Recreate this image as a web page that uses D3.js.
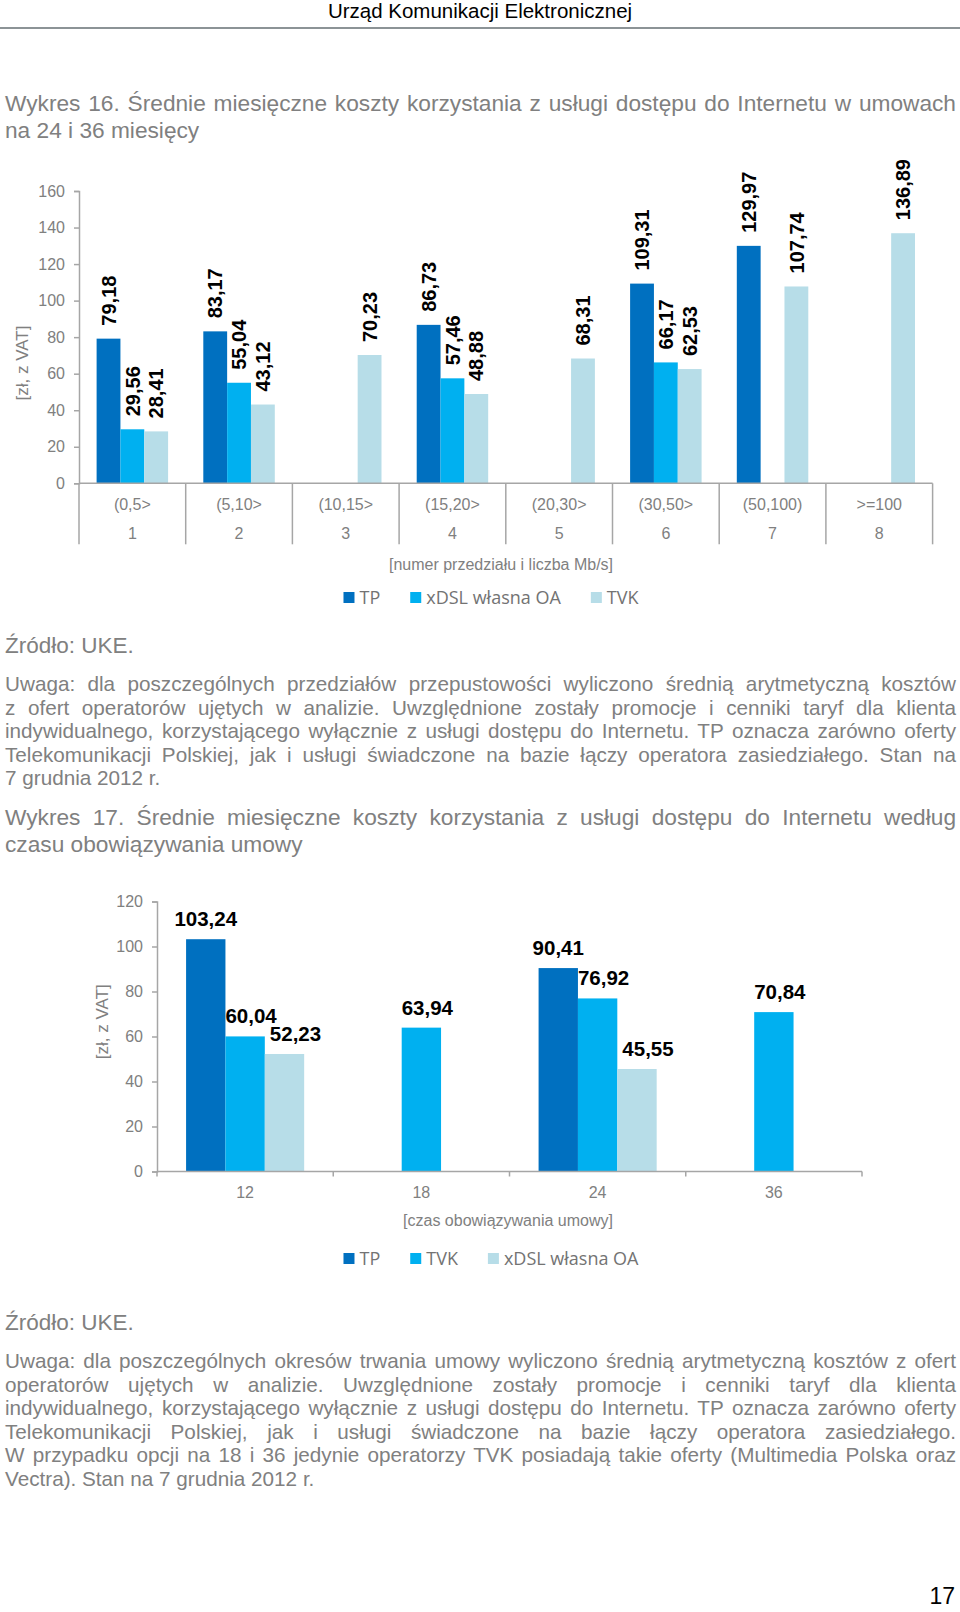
<!DOCTYPE html>
<html>
<head>
<meta charset="utf-8">
<script src="https://cdn.jsdelivr.net/npm/d3@7"></script>
<style>
  body { margin: 0; background: #fff; }
  svg text { font-family: "Liberation Sans", Arial, sans-serif; }
</style>
</head>
<body>
<svg id="page" width="960" height="1612"></svg>
<script>
// --- dane: wykres 16 ---
const cats1 = ["(0,5>", "(5,10>", "(10,15>", "(15,20>", "(20,30>", "(30,50>", "(50,100)", ">=100"];
const nums1 = ["1", "2", "3", "4", "5", "6", "7", "8"];
const series1 = ["TP", "xDSL własna OA", "TVK"];
const tp1 = [79.18, 83.17, null, 86.73, null, 109.31, 129.97, null];
const xdsl1 = [29.56, 55.04, null, 57.46, null, 66.17, null, null];
const tvk1 = [28.41, 43.12, 70.23, 48.88, 68.31, 62.53, 107.74, 136.89];
const yTicks1 = [0, 20, 40, 60, 80, 100, 120, 140, 160];

// --- dane: wykres 17 ---
const cats2 = ["12", "18", "24", "36"];
const series2 = ["TP", "TVK", "xDSL własna OA"];
const tp2 = [103.24, null, 90.41, null];
const tvk2 = [60.04, 63.94, 76.92, 70.84];
const xdsl2 = [52.23, null, 45.55, null];
const yTicks2 = [0, 20, 40, 60, 80, 100, 120];

const dark = "#0070c0", bright = "#00b0f0", light = "#b7dde8";
const grey = "#808080";
const axisGrey = "#a6a6a6";
const fmt = v => v.toFixed(2).replace(".", ",");

const svg = d3.select("#page");

// nagłówek strony
svg.append("text").attr("x", 480).attr("y", 18).attr("text-anchor", "middle")
  .attr("font-size", 20.5).attr("fill", "#000").text("Urząd Komunikacji Elektronicznej");
svg.append("line").attr("x1", 0).attr("x2", 960).attr("y1", 28).attr("y2", 28)
  .attr("stroke", "#8c9396").attr("stroke-width", 2);

// linie tekstu, wyjustowane do prawego marginesu
function textLine(str, x, y, size, justify, color) {
  const t = svg.append("text").attr("x", x).attr("y", y).attr("font-size", size)
    .attr("fill", color || grey).text(str);
  if (justify) {
    const w = t.node().getComputedTextLength();
    const spaces = (str.match(/ /g) || []).length;
    if (spaces) t.attr("word-spacing", (951 - w) / spaces);
  }
  return t;
}

textLine("Wykres 16. Średnie miesięczne koszty korzystania z usługi dostępu do Internetu w umowach", 5, 111, 22.7, true);
textLine("na 24 i 36 miesięcy", 5, 138, 22.7, false);

function drawChart(cfg) {
  const y = d3.scaleLinear().domain(cfg.domain).range([cfg.y0, cfg.y1]);
  const x0 = d3.scaleBand().domain(cfg.cats).range([cfg.x0, cfg.x1])
    .paddingInner(cfg.pad).paddingOuter(cfg.pad / 2);
  const x1 = d3.scaleBand().domain(cfg.series).range([0, x0.bandwidth()]);
  const g = svg.append("g");

  // oś Y
  const yAxis = d3.axisLeft(y).tickValues(cfg.ticks).tickSize(5).tickPadding(9);
  const ya = g.append("g").attr("transform", `translate(${cfg.x0},0)`).call(yAxis);
  ya.select(".domain").attr("stroke", axisGrey).attr("stroke-width", 1.5);
  ya.selectAll(".tick line").attr("stroke", axisGrey).attr("stroke-width", 1.5);
  ya.selectAll("text").attr("font-size", 16).attr("fill", grey)
    .attr("font-family", "Liberation Sans, Arial, sans-serif");

  g.append("text").attr("transform", `translate(${cfg.titleX},${cfg.titleY}) rotate(-90)`)
    .attr("text-anchor", "middle").attr("dy", "0.35em").attr("font-size", 17).attr("fill", grey)
    .text("[zł, z VAT]");

  // słupki
  cfg.values.forEach((vals, si) => {
    const sname = cfg.series[si];
    const data = vals.map((v, i) => ({ cat: cfg.cats[i], v })).filter(d => d.v != null);
    g.selectAll(null).data(data).enter().append("rect")
      .attr("x", d => x0(d.cat) + x1(sname))
      .attr("y", d => y(d.v))
      .attr("width", x1.bandwidth())
      .attr("height", d => y(0) - y(d.v))
      .attr("fill", cfg.colors[si]);

    const lbl = g.selectAll(null).data(data).enter().append("text")
      .attr("font-weight", "bold").attr("fill", "#000").text(d => fmt(d.v));
    if (cfg.rotate) {
      lbl.attr("font-size", 20)
        .attr("transform", d => `translate(${x0(d.cat) + x1(sname) + x1.bandwidth() / 2},${y(d.v) - 13}) rotate(-90)`)
        .attr("dy", "0.36em");
    } else {
      lbl.attr("font-size", 20.5).attr("text-anchor", "middle")
        .attr("x", d => x0(d.cat) + x1(sname) + x1.bandwidth() / 2 + cfg.labelDx[si])
        .attr("y", d => y(d.v) - 13);
    }
  });

  // oś X
  g.append("line").attr("x1", cfg.x0).attr("x2", cfg.x1).attr("y1", y(0)).attr("y2", y(0))
    .attr("stroke", axisGrey).attr("stroke-width", 1.5);
  const bounds = cfg.cats.map(c => x0(c) - x0.step() * cfg.pad / 2).concat([cfg.x1]);
  g.selectAll(null).data(bounds).enter().append("line")
    .attr("x1", d => d).attr("x2", d => d).attr("y1", y(0)).attr("y2", y(0) + cfg.sepLen)
    .attr("stroke", axisGrey).attr("stroke-width", 1.5);
  cfg.rows.forEach((row, ri) => {
    g.selectAll(null).data(row).enter().append("text")
      .attr("x", (d, i) => x0(cfg.cats[i]) + x0.bandwidth() / 2)
      .attr("y", y(0) + cfg.rowY[ri]).attr("text-anchor", "middle")
      .attr("font-size", 16).attr("fill", grey).text(d => d);
  });
  g.append("text").attr("x", cfg.axisTitleX).attr("y", y(0) + cfg.axisTitleY)
    .attr("text-anchor", "middle").attr("font-size", 16).attr("fill", grey).text(cfg.axisTitle);

  // legenda
  const lg = g.append("g");
  let lx = 0;
  cfg.series.forEach((s, i) => {
    lg.append("rect").attr("x", lx).attr("y", -12).attr("width", 11).attr("height", 11)
      .attr("fill", cfg.colors[i]);
    const t = lg.append("text").attr("x", lx + 16).attr("y", 0).attr("font-size", 18)
      .attr("fill", "#737373").text(s).style("font-family", "Open Sans, sans-serif");
    lx += 16 + t.node().getComputedTextLength() + 30;
  });
  lx -= 30;
  lg.attr("transform", `translate(${cfg.legendCx - lx / 2},${cfg.legendY})`);
}

drawChart({
  cats: cats1, series: series1, values: [tp1, xdsl1, tvk1], colors: [dark, bright, light],
  domain: [0, 160], ticks: yTicks1, y0: 483.3, y1: 191, x0: 79, x1: 932.6, pad: 0.33,
  titleX: 22, titleY: 363, rotate: true, sepLen: 61, rows: [cats1, nums1], rowY: [27, 56],
  axisTitle: "[numer przedziału i liczba Mb/s]", axisTitleX: 501, axisTitleY: 87,
  legendCx: 491, legendY: 604
});

textLine("Źródło: UKE.", 5, 653, 22.5, false);
[
  "Uwaga: dla poszczególnych przedziałów przepustowości wyliczono średnią arytmetyczną kosztów",
  "z ofert operatorów ujętych w analizie. Uwzględnione zostały promocje i cenniki taryf dla klienta",
  "indywidualnego, korzystającego wyłącznie z usługi dostępu do Internetu. TP oznacza zarówno oferty",
  "Telekomunikacji Polskiej, jak i usługi świadczone na bazie łączy operatora zasiedziałego. Stan na",
  "7 grudnia 2012 r."
].forEach((s, i, a) => textLine(s, 5, 691 + i * 23.6, 20.7, i < a.length - 1));

textLine("Wykres 17. Średnie miesięczne koszty korzystania z usługi dostępu do Internetu według", 5, 825, 22.7, true);
textLine("czasu obowiązywania umowy", 5, 851.5, 22.7, false);

drawChart({
  cats: cats2, series: series2, values: [tp2, tvk2, xdsl2], colors: [dark, bright, light],
  domain: [0, 120], ticks: yTicks2, y0: 1171.5, y1: 901.5, x0: 157, x1: 862, pad: 0.33,
  titleX: 101.7, titleY: 1021.7, rotate: false, sepLen: 5, rows: [cats2], rowY: [26], labelDx: [0, 6, 11],
  axisTitle: "[czas obowiązywania umowy]", axisTitleX: 508, axisTitleY: 54,
  legendCx: 491, legendY: 1265
});

textLine("Źródło: UKE.", 5, 1330, 22.5, false);
[
  "Uwaga: dla poszczególnych okresów trwania umowy wyliczono średnią arytmetyczną kosztów z ofert",
  "operatorów ujętych w analizie. Uwzględnione zostały promocje i cenniki taryf dla klienta",
  "indywidualnego, korzystającego wyłącznie z usługi dostępu do Internetu. TP oznacza zarówno oferty",
  "Telekomunikacji Polskiej, jak i usługi świadczone na bazie łączy operatora zasiedziałego.",
  "W przypadku opcji na 18 i 36 jedynie operatorzy TVK posiadają takie oferty (Multimedia Polska oraz",
  "Vectra). Stan na 7 grudnia 2012 r."
].forEach((s, i, a) => textLine(s, 5, 1368 + i * 23.6, 20.7, i < a.length - 1));

svg.append("text").attr("x", 955).attr("y", 1604).attr("text-anchor", "end")
  .attr("font-size", 23).attr("fill", "#000").text("17");
</script>
</body>
</html>
